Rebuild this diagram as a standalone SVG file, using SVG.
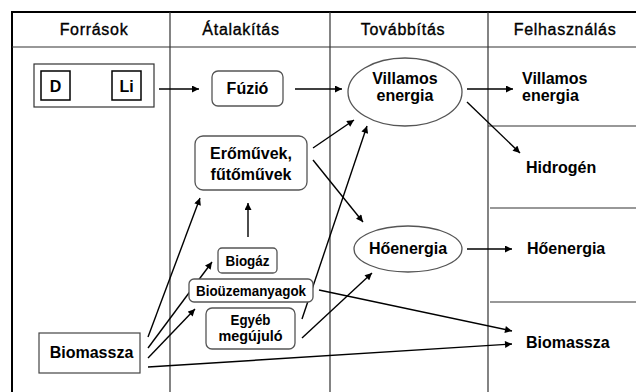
<svg xmlns="http://www.w3.org/2000/svg" width="636" height="392" viewBox="0 0 636 392">
<defs>
<marker id="ah" viewBox="0 0 10 10" refX="10" refY="5" markerWidth="8" markerHeight="7" markerUnits="userSpaceOnUse" orient="auto"><path d="M0,0 L10,5 L0,10 z" fill="#000"/></marker>
<style>
.frame{fill:none;stroke:#000;stroke-width:2}
.grid{stroke:#333;stroke-width:1.2;fill:none}
.hd{font-family:"Liberation Sans",Arial,sans-serif;font-size:16px;fill:#000;stroke:#000;stroke-width:0.35px;letter-spacing:0.7px;text-anchor:middle}
.t{font-family:"Liberation Sans",Arial,sans-serif;font-weight:bold;font-size:16px;fill:#000}
.m{text-anchor:middle}
.s{font-size:14.5px}
.box{fill:#fff;stroke:#555;stroke-width:1.3}
.sq{fill:#fff;stroke:#000;stroke-width:1.5}
.c{stroke:#000;stroke-width:1.4;fill:none;marker-end:url(#ah)}
</style>
</defs>
<rect width="636" height="392" fill="#fff"/>
<g id="table">
<path class="frame" d="M12,392 V12 H636"/>
<path class="grid" d="M12,47 H636 M170,12 V392 M330,12 V392 M488,12 V392 M488,126 H636 M490,208 H636 M490,302 H636"/>
<text class="hd" x="94" y="35">Források</text>
<text class="hd" x="241" y="35">Átalakítás</text>
<text class="hd" x="403" y="35">Továbbítás</text>
<text class="hd" x="565" y="35">Felhasználás</text>
</g>
<g id="connectors">
<line class="c" x1="159" y1="89" x2="199" y2="89"/>
<line class="c" x1="295" y1="89" x2="342" y2="89"/>
<line class="c" x1="467" y1="89" x2="513" y2="89"/>
<line class="c" x1="467" y1="102" x2="520" y2="153"/>
<line class="c" x1="313" y1="148" x2="354" y2="120"/>
<line class="c" x1="313" y1="160" x2="363" y2="222"/>
<line class="c" x1="248" y1="237" x2="248" y2="203"/>
<line class="c" x1="148" y1="337" x2="200" y2="198"/>
<line class="c" x1="148" y1="348" x2="212" y2="262"/>
<line class="c" x1="148" y1="358" x2="195" y2="309"/>
<line class="c" x1="148" y1="367" x2="512" y2="344"/>
<line class="c" x1="319" y1="290" x2="512" y2="331"/>
<line class="c" x1="302" y1="319" x2="367" y2="126"/>
<line class="c" x1="302" y1="338" x2="372" y2="273"/>
<line class="c" x1="467" y1="249" x2="512" y2="249"/>
</g>
<g id="dli">
<rect x="34" y="64" width="120" height="43" fill="#fff" stroke="#333" stroke-width="1.2"/>
<rect class="sq" x="41" y="71" width="29" height="29"/>
<rect class="sq" x="112" y="71" width="29" height="29"/>
<text class="t m" x="55.5" y="92">D</text>
<text class="t m" x="126.5" y="92">Li</text>
</g>
<g id="fuzio">
<rect class="box" x="212" y="71" width="71" height="35" rx="6"/>
<text class="t m" x="247.5" y="94">Fúzió</text>
</g>
<g id="villamos">
<ellipse class="box" cx="405" cy="92" rx="57" ry="34"/>
<text class="t m" x="405" y="84">Villamos</text>
<text class="t m" x="405" y="101">energia</text>
</g>
<g id="eromuvek">
<rect class="box" x="195" y="136" width="112" height="54" rx="8"/>
<text class="t m" x="251" y="159">Erőművek,</text>
<text class="t m" x="251" y="180">fűtőművek</text>
</g>
<g id="biogaz">
<rect class="box" x="218" y="248" width="59" height="25" rx="4"/>
<text class="t s m" x="247.5" y="266" textLength="44" lengthAdjust="spacingAndGlyphs">Biogáz</text>
</g>
<g id="biouzemanyagok">
<rect class="box" x="189" y="279" width="124" height="23" rx="5"/>
<text class="t s m" x="251" y="296" textLength="110" lengthAdjust="spacingAndGlyphs">Bioüzemanyagok</text>
</g>
<g id="egyeb">
<rect class="box" x="206" y="308" width="89" height="41" rx="6"/>
<text class="t s m" x="250.5" y="325" textLength="40" lengthAdjust="spacingAndGlyphs">Egyéb</text>
<text class="t s m" x="250.5" y="341" textLength="64" lengthAdjust="spacingAndGlyphs">megújuló</text>
</g>
<g id="hoenergia">
<ellipse class="box" cx="408" cy="249" rx="54" ry="23"/>
<text class="t m" x="408" y="254">Hőenergia</text>
</g>
<g id="biomassza">
<rect x="39" y="333" width="101" height="40" fill="#fff" stroke="#444" stroke-width="1.2"/>
<text class="t m" x="91.5" y="358">Biomassza</text>
</g>
<g id="use-villamos"><text class="t" x="522" y="84">Villamos</text><text class="t" x="522" y="101">energia</text></g>
<g id="use-hidrogen"><text class="t" x="526" y="173">Hidrogén</text></g>
<g id="use-hoenergia"><text class="t" x="527" y="254">Hőenergia</text></g>
<g id="use-biomassza"><text class="t" x="526" y="348">Biomassza</text></g>
</svg>
